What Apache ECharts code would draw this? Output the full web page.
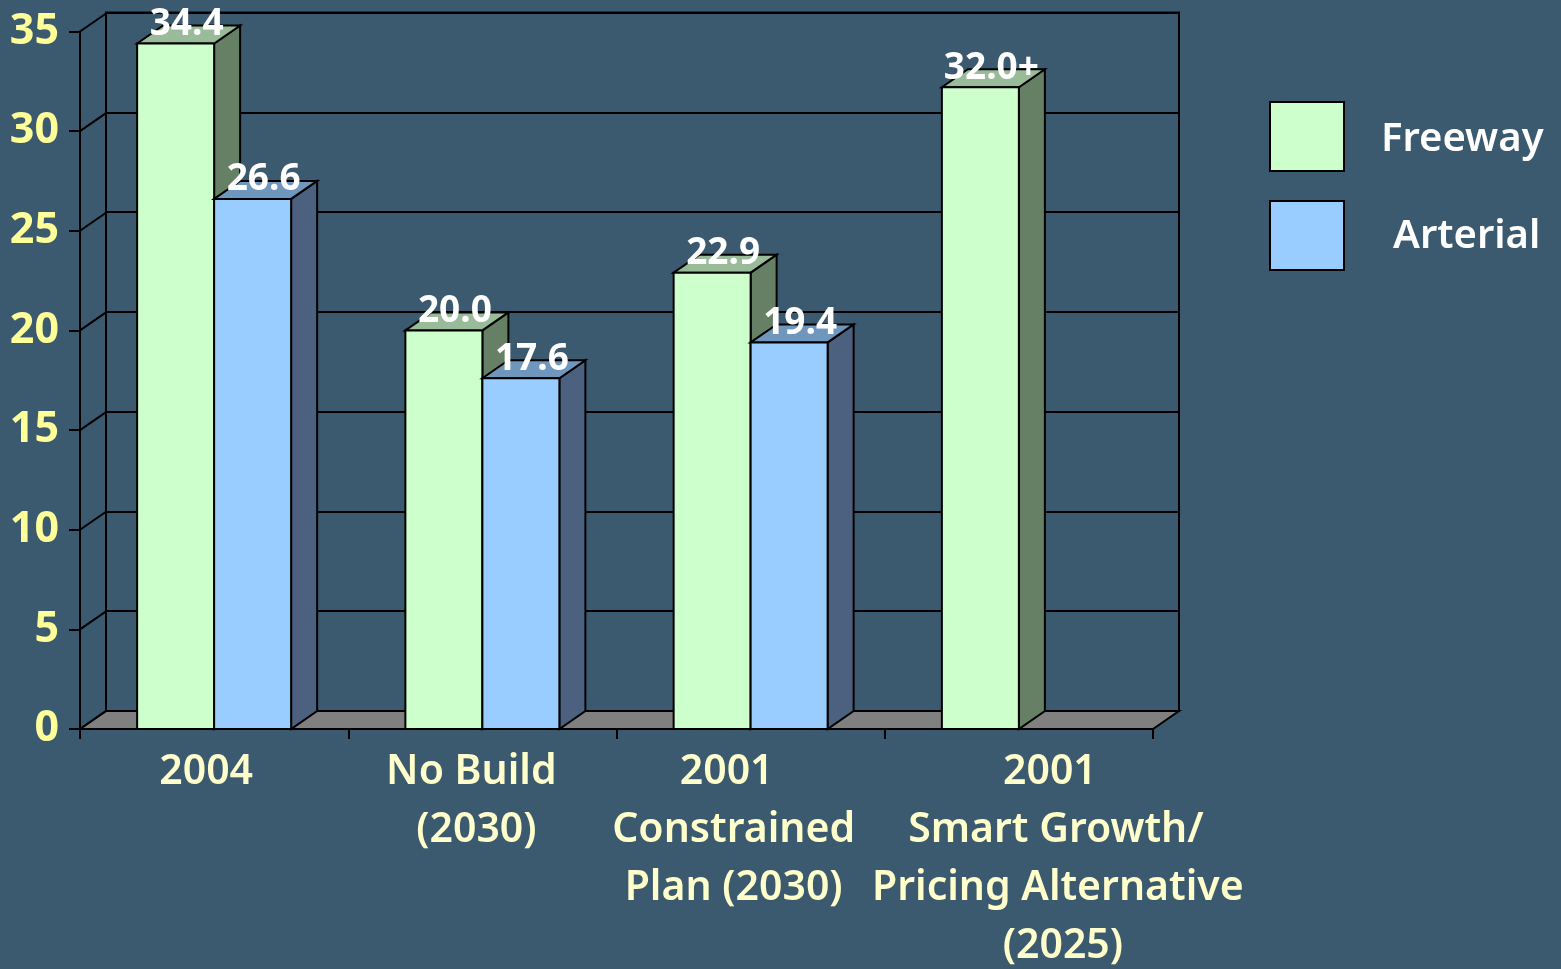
<!DOCTYPE html>
<html>
<head>
<meta charset="utf-8">
<title>Freeway and Arterial</title>
<style>
  html, body { margin: 0; padding: 0; background: #3c5a6f; }
  #main { width: 1561px; height: 969px; }
</style>
<script src="https://cdn.jsdelivr.net/npm/echarts@6/dist/echarts.min.js"></script>
</head>
<body>
<div id="main"></div>
<script>
var categories = ['2004', 'No Build\n(2030)', '2001\nConstrained\nPlan (2030)', '2001\nSmart Growth/\nPricing Alternative\n(2025)'];
var freeway = [34.4, 20.0, 22.9, 32.2];
var arterial = [26.6, 17.6, 19.4, null];
var freewayLabels = ['34.4', '20.0', '22.9', '32.0+'];
var arterialLabels = ['26.6', '17.6', '19.4', ''];
var yTicks = [0, 5, 10, 15, 20, 25, 30, 35];

// how far each line of a category label sits from the middle of its category
var lineShift = [[-8], [-11, -6], [-24, -17, -17], [31, 37, 39, 44]];

var FONT = '"Noto Sans"';
var DX = 26, DY = -18;   // depth of the 3d box
var BAR_W = 77;
var LINE = '#000';

function barItem(side, front, top, shade, texts) {
  return function(params, api) {
    var i = api.value(0), v = api.value(1);
    if (isNaN(v)) return null;
    var p = api.coord([i, v]), b = api.coord([i, 0]);
    var x0 = side < 0 ? p[0] - BAR_W : p[0];
    var x1 = x0 + BAR_W;
    var st = function(c) { return { fill: c, stroke: LINE, lineWidth: 2 }; };
    return {
      type: 'group',
      children: [
        { type: 'polygon', shape: { points: [[x1, p[1]], [x1 + DX, p[1] + DY], [x1 + DX, b[1] + DY], [x1, b[1]]] }, style: st(shade) },
        { type: 'polygon', shape: { points: [[x0, p[1]], [x0 + DX, p[1] + DY], [x1 + DX, p[1] + DY], [x1, p[1]]] }, style: st(top) },
        { type: 'rect', shape: { x: x0, y: p[1], width: BAR_W, height: b[1] - p[1] }, style: st(front) },
        { type: 'text', z2: 50, x: (x0 + x1) / 2 + 11, y: p[1] - 19, style: {
          text: texts[i], fill: '#fff', font: 'bold 37px ' + FONT, align: 'center', verticalAlign: 'middle'
        } }
      ]
    };
  };
}

var richLines = {};
lineShift.forEach(function(row) {
  row.forEach(function(s) {
    richLines['s' + (s < 0 ? 'm' : 'p') + Math.abs(s)] = {
      padding: s < 0 ? [0, -2 * s, 0, 0] : [0, 0, 0, 2 * s],
      lineHeight: 58, fontSize: 41, fontWeight: 600, fontFamily: FONT, color: '#ffffcc'
    };
  });
});

var myChart = echarts.init(document.getElementById('main'));
var option = {
  backgroundColor: '#3c5a6f',
  animation: false,
  legend: {
    orient: 'vertical', left: 1264, top: 96, itemWidth: 74, itemHeight: 69, itemGap: 28,
    selectedMode: false,
    data: [
      { name: 'Freeway', icon: 'rect', itemStyle: { color: '#ccffcc', borderColor: LINE, borderWidth: 2 } },
      { name: 'Arterial', icon: 'rect', itemStyle: { color: '#99ccff', borderColor: LINE, borderWidth: 2 } }
    ],
    formatter: function(name) { return '{' + name + '|' + name + '}'; },
    textStyle: {
      rich: {
        Freeway: { padding: [7, 0, 0, 32], color: '#fff', fontSize: 40, fontWeight: 600, fontFamily: FONT },
        Arterial: { padding: [2, 0, 0, 44], color: '#fff', fontSize: 40, fontWeight: 600, fontFamily: FONT }
      }
    }
  },
  grid: [
    { left: 80, top: 31.5, width: 1073, height: 697.5 },
    { left: 106, top: 12.5, width: 1073, height: 698.5, show: true, backgroundColor: 'transparent', borderColor: LINE, borderWidth: 2 }
  ],
  xAxis: [
    {
      type: 'category', gridIndex: 0, data: categories,
      axisLine: { lineStyle: { color: LINE, width: 2 } },
      axisTick: { show: true, length: 10, lineStyle: { color: LINE, width: 2 } },
      axisLabel: {
        interval: 0, margin: 14,
        formatter: function(value, idx) {
          return value.split('\n').map(function(line, n) {
            var s = lineShift[idx][n];
            return '{s' + (s < 0 ? 'm' : 'p') + Math.abs(s) + '|' + line + '}';
          }).join('\n');
        },
        rich: richLines
      }
    },
    { type: 'category', gridIndex: 1, data: categories, show: false }
  ],
  yAxis: [
    {
      type: 'value', gridIndex: 0, min: 0, max: 35, interval: 5,
      axisLine: { show: true, lineStyle: { color: LINE, width: 2 } },
      axisTick: { show: true, length: 11, lineStyle: { color: LINE, width: 2 } },
      axisLabel: { margin: 21, padding: [3, 0, 0, 0], color: '#ffff99', fontSize: 43, fontWeight: 'bold', fontFamily: FONT },
      splitLine: { show: false }
    },
    {
      type: 'value', gridIndex: 1, min: 0, max: 35, interval: 5,
      axisLine: { show: false }, axisTick: { show: false }, axisLabel: { show: false },
      splitLine: { show: true, lineStyle: { color: LINE, width: 2 } }
    }
  ],
  series: [
    {
      // grey floor of the box
      name: 'floor', type: 'custom', xAxisIndex: 0, yAxisIndex: 0, z: 1, silent: true,
      data: [[0, 0]],
      renderItem: function(params, api) {
        var a = api.coord([0, 0]), b = api.coord([categories.length - 1, 0]);
        var half = api.size([1, 0])[0] / 2;
        var l = a[0] - half, r = b[0] + half, y = a[1];
        return {
          type: 'polygon',
          shape: { points: [[l, y], [l + DX, y + DY], [r + DX, y + DY], [r, y]] },
          style: { fill: '#808080', stroke: LINE, lineWidth: 2 }
        };
      }
    },
    {
      // lines on the left wall going back from each y tick
      name: 'wall', type: 'custom', xAxisIndex: 0, yAxisIndex: 0, z: 1, silent: true,
      data: yTicks.map(function(t) { return [0, t]; }),
      renderItem: function(params, api) {
        var p = api.coord([0, api.value(1)]);
        var l = p[0] - api.size([1, 0])[0] / 2;
        return {
          type: 'line',
          shape: { x1: l, y1: p[1], x2: l + DX, y2: p[1] + DY },
          style: { stroke: LINE, lineWidth: 2 }
        };
      }
    },
    {
      name: 'Freeway', type: 'custom', xAxisIndex: 0, yAxisIndex: 0, z: 2,
      itemStyle: { color: '#ccffcc' },
      data: freeway.map(function(v, i) { return [i, v]; }),
      renderItem: barItem(-1, '#ccffcc', '#99bb99', '#668066', freewayLabels)
    },
    {
      name: 'Arterial', type: 'custom', xAxisIndex: 0, yAxisIndex: 0, z: 3,
      itemStyle: { color: '#99ccff' },
      data: arterial.map(function(v, i) { return [i, v]; }),
      renderItem: barItem(1, '#99ccff', '#6f96bd', '#4c6180', arterialLabels)
    }
  ]
};
myChart.setOption(option);
</script>
</body>
</html>
